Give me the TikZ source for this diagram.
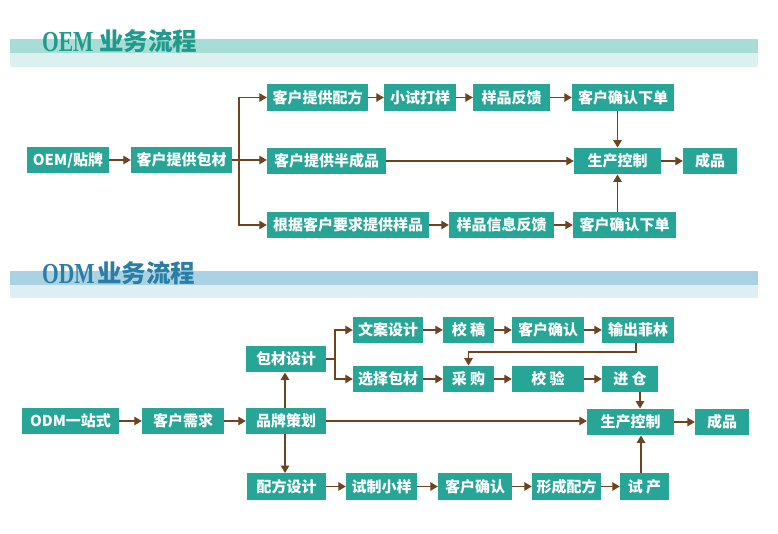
\documentclass[tikz,border=0pt]{standalone}
\usepackage{fontspec}
\newfontfamily\cjk{Noto Sans CJK SC}
\newfontfamily\ttlatin{Liberation Serif}
\usetikzlibrary{arrows.meta}
\definecolor{boxc}{HTML}{27A597}
\definecolor{arrc}{HTML}{6E4420}
\definecolor{oemdark}{HTML}{A8DDD7}
\definecolor{oemlight}{HTML}{DCF1EF}
\definecolor{oemtext}{HTML}{1F9A8B}
\definecolor{odmdark}{HTML}{AAD2E3}
\definecolor{odmlight}{HTML}{DDEEF5}
\definecolor{odmtext}{HTML}{2A7EA6}
\tikzset{
  box/.style={fill=boxc, text=white, minimum height=26.5pt, inner sep=0pt,
    font=\cjk\bfseries\fontsize{15}{15}\selectfont},
  arr/.style={draw=arrc, line width=1.3pt, -{Triangle[length=7.5pt,width=8.5pt]}, fill=none},
  ln/.style={draw=arrc, line width=1.3pt},
  ttl/.style={inner sep=0pt, anchor=west},
  ttllat/.style={ttl, font=\ttlatin\bfseries\fontsize{29}{29}\selectfont},
  ttlcjk/.style={ttl, font=\cjk\bfseries\fontsize{24.5}{24.5}\selectfont}
}
\begin{document}
\begin{tikzpicture}[x=1pt,y=-1pt]
\useasboundingbox[fill=white] (0,0) rectangle (778,534);
% headers
\fill[oemdark] (10,39) rectangle (758,53);
\fill[oemlight] (10,53) rectangle (758,67);
\node[ttllat, text=oemtext] (t1a) at (42,42) {\scalebox{0.74}[1]{OEM}};
\node[ttlcjk, text=oemtext] (t1b) at (99,41) {业务流程};
\fill[odmdark] (10,271) rectangle (758,285);
\fill[odmlight] (10,285) rectangle (758,298);
\node[ttllat, text=odmtext] (t2a) at (42,274) {\scalebox{0.74}[1]{ODM}};
\node[ttlcjk, text=odmtext] (t2b) at (97,273) {业务流程};

% OEM
\node[box, minimum width=82pt] (oem) at (68,160) {OEM/贴牌};
\node[box, minimum width=101pt] (bc) at (181.5,160) {客户提供包材};
\node[box, minimum width=101pt] (pf) at (317.5,97.5) {客户提供配方};
\node[box, minimum width=72pt] (xs) at (420,97.5) {小试打样};
\node[box, minimum width=77pt] (yf) at (511.5,97.5) {样品反馈};
\node[box, minimum width=102pt] (qr1) at (623,97.5) {客户确认下单};
\node[box, minimum width=119pt] (bcp) at (326.5,161) {客户提供半成品};
\node[box, minimum width=87pt] (sc1) at (617.5,161) {生产控制};
\node[box, minimum width=54pt] (cp1) at (710,161) {成品};
\node[box, minimum width=162pt] (gj) at (348,225) {根据客户要求提供样品};
\node[box, minimum width=105pt] (xx) at (501.5,225) {样品信息反馈};
\node[box, minimum width=103pt] (qr2) at (624.5,225) {客户确认下单};
\coordinate (br1) at (239,160);

\draw[arr] (oem) -- (bc);
\draw[ln] (bc.east) -- (br1);
\draw[arr] (br1) |- (pf);
\draw[arr] (br1) |- (gj);
\draw[arr] (br1) -- (bcp.west |- br1);
\draw[arr] (pf) -- (xs);
\draw[arr] (xs) -- (yf);
\draw[arr] (yf) -- (qr1);
\draw[arr] (bcp.east |- sc1) -- (sc1);
\draw[arr] (sc1) -- (cp1);
\draw[arr] (gj) -- (xx);
\draw[arr] (xx) -- (qr2);
\draw[arr] (qr1.south -| sc1.north) -- (sc1.north);
\draw[arr] (qr2.north -| sc1.south) -- (sc1.south);

% ODM
\node[box, minimum width=97pt] (odm) at (70.5,421) {ODM一站式};
\node[box, minimum width=82pt] (kx) at (183,421) {客户需求};
\node[box, minimum width=80pt] (pp) at (286,421) {品牌策划};
\node[box, minimum width=80pt] (bs) at (286,359) {包材设计};
\node[box, minimum width=79pt] (fs) at (286.5,486.5) {配方设计};
\node[box, minimum width=70pt] (wa) at (388,330) {文案设计};
\node[box, minimum width=70pt] (xz) at (388,379) {选择包材};
\node[box, minimum width=51pt] (jg) at (468.5,330) {校 稿};
\node[box, minimum width=72pt] (kq1) at (548,330) {客户确认};
\node[box, minimum width=72pt] (sc) at (638,330) {输出菲林};
\node[box, minimum width=51pt] (cg) at (468.5,379) {采 购};
\node[box, minimum width=72pt] (jy) at (548,379) {校 验};
\node[box, minimum width=56pt] (jc) at (630,379) {进 仓};
\node[box, minimum width=87pt] (sc2) at (630.5,422) {生产控制};
\node[box, minimum width=54pt] (cp2) at (722,422) {成品};
\node[box, minimum width=71pt] (sz) at (381.5,486.5) {试制小样};
\node[box, minimum width=74pt] (kq2) at (475,486.5) {客户确认};
\node[box, minimum width=69pt] (xc) at (566.5,486.5) {形成配方};
\node[box, minimum width=49pt] (sp) at (644.5,486.5) {试 产};
\coordinate (br2) at (335,359);
\coordinate (c1) at (636,352);
\coordinate (c2) at (468.5,352);

\draw[arr] (odm) -- (kx);
\draw[arr] (kx) -- (pp);
\draw[arr] (pp.east) -- (sc2.west |- pp.east);
\draw[arr] (sc2) -- (cp2);
\draw[arr] (pp.north -| 285,0) -- (bs.south -| 285,0);
\draw[arr] (pp.south -| 285,0) -- (fs.north -| 285,0);
\draw[ln] (bs.east) -- (br2);
\draw[arr] (br2) |- (wa);
\draw[arr] (br2) |- (xz);
\draw[arr] (wa) -- (jg);
\draw[arr] (jg) -- (kq1);
\draw[arr] (kq1) -- (sc);
\draw[arr] (sc.south -| c1) -- (c1) -- (c2) -- (cg.north);
\draw[arr] (xz) -- (cg);
\draw[arr] (cg) -- (jy);
\draw[arr] (jy) -- (jc);
\draw[arr] (jc.south -| 640,0) -- (sc2.north -| 640,0);
\draw[arr] (fs) -- (sz);
\draw[arr] (sz) -- (kq2);
\draw[arr] (kq2) -- (xc);
\draw[arr] (xc) -- (sp);
\draw[arr] (sp.north -| 641,0) -- (sc2.south -| 641,0);
\end{tikzpicture}
\end{document}
